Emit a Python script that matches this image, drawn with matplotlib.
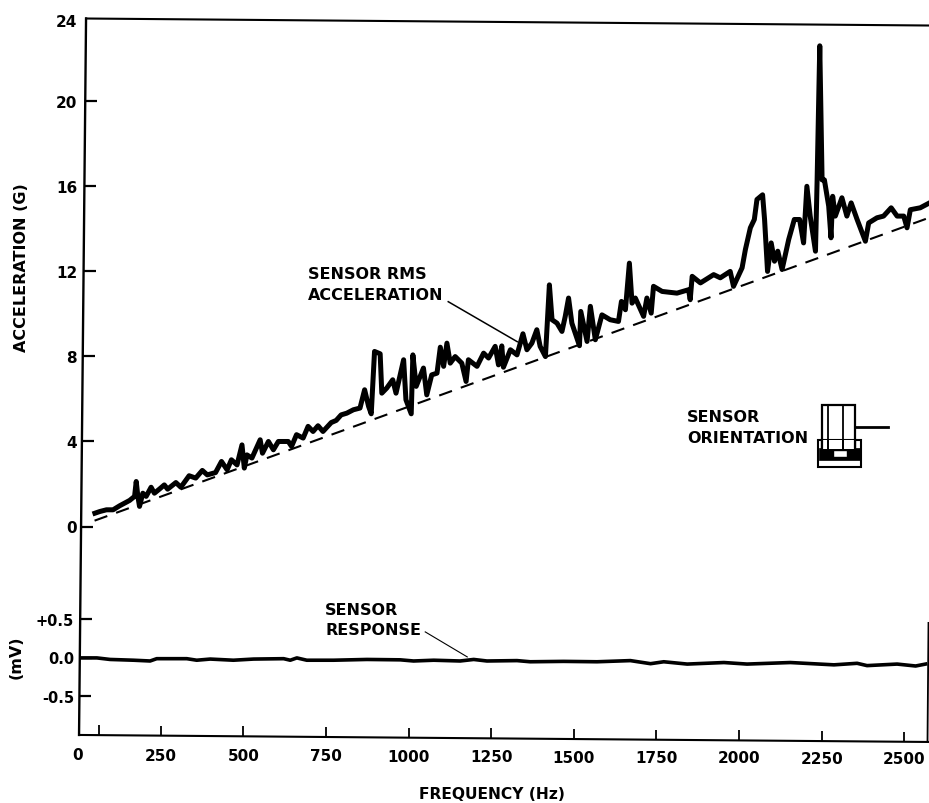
import matplotlib
matplotlib.use('Agg')
import matplotlib.pyplot as plt
from matplotlib.patches import Rectangle
from matplotlib.transforms import ScaledTranslation
import numpy as np

# values
accel_freq = [51, 66, 86, 106, 126, 156, 171, 176, 181, 186, 196, 206, 221, 231, 246, 261, 271, 296, 311, 336,
              356, 376, 391, 416, 434, 451, 464, 481, 496, 503, 511, 526, 551, 558, 576, 591, 606, 636, 646, 661,
              681, 696, 711, 726, 741, 766, 781, 796, 813, 833, 853, 867, 879, 887, 897, 914, 919, 934, 952, 962,
              985, 992, 1008, 1013, 1023, 1045, 1055, 1070, 1086, 1096, 1106, 1116, 1126, 1141, 1161, 1174, 1181,
              1207, 1227, 1242, 1262, 1272, 1282, 1287, 1308, 1328, 1346, 1358, 1373, 1388, 1398, 1414, 1426, 1434,
              1449, 1464, 1474, 1484, 1494, 1517, 1521, 1540, 1550, 1565, 1585, 1610, 1635, 1644, 1656, 1668, 1676,
              1686, 1711, 1721, 1734, 1741, 1767, 1812, 1847, 1852, 1858, 1883, 1923, 1943, 1973, 1983, 2009, 2019,
              2034, 2046, 2054, 2071, 2077, 2086, 2097, 2107, 2117, 2130, 2150, 2167, 2183, 2195, 2205, 2215, 2231,
              2236, 2244, 2251, 2258, 2271, 2278, 2283, 2291, 2311, 2326, 2339, 2357, 2382, 2392, 2417, 2437, 2460,
              2478, 2498, 2508, 2518, 2548, 2576]
accel_g = [0.64, 0.72, 0.80, 0.80, 0.99, 1.24, 1.43, 2.13, 1.43, 0.96, 1.58, 1.43, 1.86, 1.58, 1.77, 1.97, 1.77,
           2.08, 1.86, 2.40, 2.29, 2.65, 2.44, 2.55, 3.07, 2.68, 3.15, 2.91, 3.85, 2.76, 3.38, 3.23, 4.09, 3.46,
           4.01, 3.62, 4.01, 4.01, 3.78, 4.33, 4.17, 4.72, 4.48, 4.75, 4.48, 4.90, 5.00, 5.26, 5.34, 5.50, 5.58,
           6.44, 5.66, 5.31, 8.24, 8.13, 6.28, 6.52, 6.91, 6.28, 7.85, 5.97, 5.31, 8.08, 6.60, 7.46, 6.20, 7.14,
           7.22, 8.44, 7.54, 8.63, 7.69, 8.00, 7.69, 6.83, 7.85, 7.54, 8.16, 7.93, 8.48, 7.61, 8.50, 7.50, 8.32,
           8.08, 9.07, 8.32, 8.63, 9.26, 8.48, 8.00, 11.37, 9.73, 9.57, 9.18, 9.89, 10.75, 9.57, 8.51, 10.12, 8.71,
           10.36, 8.79, 9.96, 9.73, 9.65, 10.59, 10.20, 12.39, 10.51, 10.75, 9.89, 10.75, 10.04, 11.30, 11.06,
           10.98, 11.14, 10.67, 11.77, 11.46, 11.85, 11.70, 12.00, 11.30, 12.17, 13.03, 14.05, 14.44, 15.38, 15.60,
           14.44, 12.00, 13.34, 12.48, 12.95, 12.09, 13.50, 14.44, 14.44, 13.34, 16.00, 14.60, 12.95, 16.30, 22.60,
           16.30, 16.30, 15.07, 13.58, 15.53, 14.60, 15.46, 14.60, 15.22, 14.44, 13.42, 14.28, 14.52, 14.60, 14.99,
           14.60, 14.60, 14.05, 14.90, 14.99, 15.22]

trend_freq = [50, 2576]
trend_g = [0.29, 14.53]

resp_freq = [10, 57, 97, 168, 218, 238, 329, 359, 400, 470, 531, 622, 642, 662, 692, 773, 874, 975, 1015, 1076,
             1156, 1197, 1237, 1328, 1368, 1469, 1570, 1671, 1732, 1772, 1843, 1954, 2024, 2155, 2287, 2357, 2387,
             2478, 2534, 2564]
resp_mv = [0.0, 0.0, -0.02, -0.03, -0.04, -0.01, -0.01, -0.03, -0.015, -0.03, -0.015, -0.01, -0.03, 0.0, -0.03,
           -0.03, -0.02, -0.025, -0.04, -0.03, -0.04, -0.02, -0.04, -0.035, -0.05, -0.045, -0.05, -0.035, -0.075,
           -0.05, -0.08, -0.06, -0.08, -0.06, -0.09, -0.07, -0.1, -0.08, -0.105, -0.08]

freq_ticks = [0, 250, 500, 750, 1000, 1250, 1500, 1750, 2000, 2250, 2500]
freq_marks = [64, 250, 500, 750, 1000, 1250, 1500, 1750, 2000, 2250, 2500]
accel_ticks = [0, 4, 8, 12, 16, 20, 24]
resp_ticks = [-0.5, 0.0, 0.5]
resp_labels = ['-0.5', '0.0', '+0.5']

WIDTH, HEIGHT = 929, 803
HZ_PER_PX = 3.027
FREE_X0 = 78  # pixel column of 0 Hz
BOLD = dict(fontsize=11.5, fontweight='bold', color='black')
TICK_FONT = dict(fontsize=11, fontweight='bold', color='black')


def axes_box(left, top, right, bottom):
    return [left / WIDTH, 1 - bottom / HEIGHT, (right - left) / WIDTH, (bottom - top) / HEIGHT]


def bare_axes(box):
    ax = fig.add_axes(box)
    ax.patch.set_visible(False)
    for side in ax.spines.values():
        side.set_visible(False)
    return ax


def shift_label(label, dx, dy):
    label.set_transform(label.get_transform() + ScaledTranslation(dx / 100, dy / 100, fig.dpi_scale_trans))


def spine_x(y_px):
    # left edge of the skewed frame at a pixel row
    return 86 - (y_px - 19) * 7 / 716


def left_ticks(ax, values, length=12):
    # short marks that start on the skewed left edge
    rows = HEIGHT - ax.transData.transform([(ax.get_xlim()[0], v) for v in values])[:, 1]
    for row in rows:
        frame.plot([spine_x(row), spine_x(row) + length], [row, row], color='black', lw=1.6,
                   solid_capstyle='butt')


fig = plt.figure(figsize=(9.295, 8.035), dpi=100)

# overlay in pixel coordinates for the hand-drawn frame, notes and the sensor sketch
frame = fig.add_axes([0, 0, 1, 1])
frame.set_xlim(0, WIDTH)
frame.set_ylim(HEIGHT, 0)
frame.axis('off')

# the scanned frame is slightly skewed
frame.plot([86, 79], [19, 735], color='black', lw=1.7)
frame.plot([86, 929], [19, 26], color='black', lw=1.5)
frame.plot([79, 928], [735, 742], color='black', lw=1.5)
frame.plot([928, 927], [623, 742], color='black', lw=1.3)

# upper panel
ax_up = bare_axes(axes_box(84, 527 - 24 * 21.27, WIDTH, 527))
ax_up.set_xlim((84 - FREE_X0) * HZ_PER_PX, (WIDTH - FREE_X0) * HZ_PER_PX)
ax_up.set_ylim(0, 24)
ax_up.plot(trend_freq, trend_g, color='black', lw=1.5, linestyle=(0, (6.5, 4.5)))
ax_up.plot(accel_freq, accel_g, color='black', lw=3.6, solid_joinstyle='round')
ax_up.set_xticks([])
ax_up.set_yticks(accel_ticks)
ax_up.tick_params(axis='y', length=0, pad=5)
for lab in ax_up.get_yticklabels():
    lab.set(**TICK_FONT)
shift_label(ax_up.get_yticklabels()[-1], 0, -4)
left_ticks(ax_up, accel_ticks[:-1])
ax_up.set_ylabel('ACCELERATION (G)', **BOLD)
ax_up.yaxis.set_label_coords(29, 267, transform=frame.transData)

# lower panel
ax_low = bare_axes(axes_box(FREE_X0, 600, WIDTH, 745))
ax_low.set_xlim(0, (WIDTH - FREE_X0) * HZ_PER_PX)
ax_low.set_ylim((658 - 745) / 77, (658 - 600) / 77)
ax_low.plot(resp_freq, resp_mv, color='black', lw=2.6)
base_mv = np.interp(freq_marks, [3, 2570], [-1.0, -1.09])
ax_low.vlines(freq_marks, base_mv, base_mv + 0.13, color='black', lw=1.3)
ax_low.set_xticks(freq_ticks)
ax_low.set_xticklabels([str(f) for f in freq_ticks], **TICK_FONT)
ax_low.set_yticks(resp_ticks)
ax_low.set_yticklabels(resp_labels, fontsize=10.5, fontweight='bold', color='black')
ax_low.tick_params(axis='x', length=0, pad=2)
ax_low.tick_params(axis='y', length=0, pad=3)
left_ticks(ax_low, resp_ticks)
for f, lab in zip(freq_ticks, ax_low.get_xticklabels()):
    shift_label(lab, 0, -4 * f / 2500)
ax_low.set_xlabel('FREQUENCY (Hz)', fontsize=11.2, fontweight='bold', color='black')
ax_low.xaxis.set_label_coords(492, 787, transform=frame.transData)
ax_low.set_ylabel('(mV)', **BOLD)
ax_low.yaxis.set_label_coords(24, 657, transform=frame.transData)

# notes
frame.text(308, 274, 'SENSOR RMS', va='center', **BOLD)
frame.text(308, 295, 'ACCELERATION', va='center', **BOLD)
frame.plot([448, 517], [302, 342], color='black', lw=1.1)
frame.text(325, 610, 'SENSOR', va='center', **BOLD)
frame.text(325, 630, 'RESPONSE', va='center', **BOLD)
frame.plot([425, 467], [632, 657], color='black', lw=0.8)
frame.text(687, 417, 'SENSOR', va='center', **BOLD)
frame.text(687, 438, 'ORIENTATION', va='center', **BOLD)

# sensor sketch
frame.add_patch(Rectangle((822, 405), 33, 44, fill=False, ec='black', lw=1.6))
frame.plot([828, 828], [405, 449], color='black', lw=1.3)
frame.plot([843, 843], [405, 449], color='black', lw=1.3)
frame.plot([855, 888], [427, 427], color='black', lw=2.0)
frame.add_patch(Rectangle((818, 440), 43, 27, fill=False, ec='black', lw=1.5))
frame.add_patch(Rectangle((819, 448), 41, 12, fc='black', ec='black', lw=0.5))
frame.add_patch(Rectangle((822, 440), 33, 9, fc='white', ec='none'))
frame.plot([828, 828], [440, 449], color='black', lw=1.3)
frame.plot([843, 843], [440, 449], color='black', lw=1.3)
frame.plot([822, 822], [440, 449], color='black', lw=1.6)
frame.plot([855, 855], [440, 449], color='black', lw=1.6)
frame.add_patch(Rectangle((833, 450), 14, 7, fc='white', ec='black', lw=1.0))

fig.savefig('out.png', dpi=100)
